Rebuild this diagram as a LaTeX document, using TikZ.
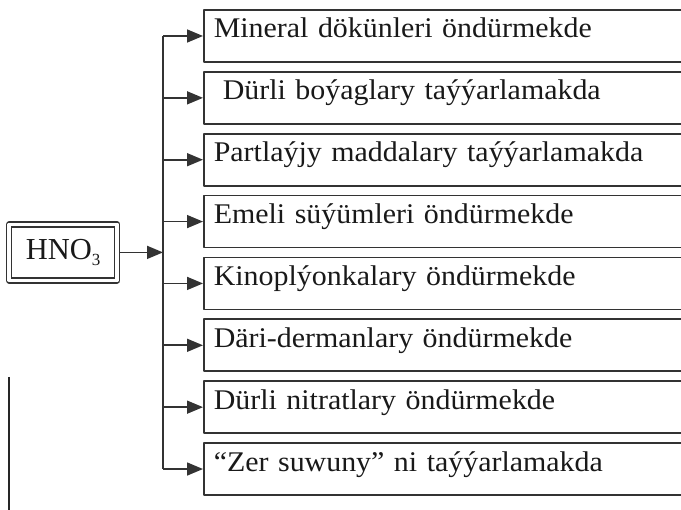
\documentclass[tikz,border=0pt]{standalone}
\usepackage{fontspec}
\setmainfont[FakeStretch=1.05]{Liberation Serif}
\newfontfamily\acidfont{Liberation Serif}
\usetikzlibrary{arrows.meta}
\colorlet{ink}{black!80}
\tikzset{
	usebox/.style={draw=ink, line width=1.6pt, anchor=west, minimum height=52pt,
		text width=470pt, inner xsep=10pt, align=left, text height=12pt, text depth=8pt,
		text=black!90, font=\fontsize{28.5}{30}\selectfont},
	acid/.style={draw=ink, double, double distance=3.5pt, line width=1.4pt,
		minimum width=108pt, minimum height=56pt, inner sep=0pt,
		text=black!90, font=\acidfont\fontsize{30.5}{32}\selectfont}
}
\newcommand{\lowthree}{\raisebox{-6pt}{\fontsize{17}{17}\selectfont 3}}
\begin{document}
\begin{tikzpicture}[x=1pt, y=-1pt, line width=1.6pt, line join=round, >={Triangle[length=16pt,width=13pt]}]
	\clip (0,0) rectangle (681,510);
	\node[acid] (hno) at (63.2,252.4) {HNO\lowthree};
	\coordinate (trunk) at (163,0);
	\foreach \t [count=\i] in {Mineral dökünleri öndürmekde,
		\hspace*{9pt}Dürli boýaglary taýýarlamakda,
		Partlaýjy maddalary taýýarlamakda,
		Emeli süýümleri öndürmekde,
		Kinoplýonkalary öndürmekde,
		Däri-dermanlary öndürmekde,
		Dürli nitratlary öndürmekde,
		“Zer suwuny” ni taýýarlamakda}
	{
		\node[usebox] (b\i) at (203, {36+61.86*(\i-1)}) {\t};
		\draw[ink, ->] (trunk |- b\i.west) -- (b\i.west);
	}
	\draw[ink] (trunk |- b1.west) -- (trunk |- b8.west);
	\draw[ink, ->] ([xshift=2.5pt]hno.east) -- (hno.east -| trunk);
	% line at the left edge
	\draw[black!85, line width=2.5pt] (9,377) -- (9,510);
\end{tikzpicture}
\end{document}
